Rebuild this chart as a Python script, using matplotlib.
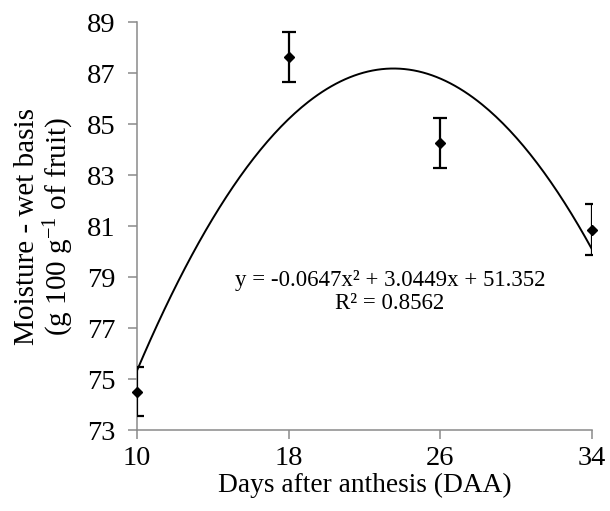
import numpy as np
import matplotlib.pyplot as plt

days = [10, 18, 26, 34]
moisture = [74.5, 87.64, 84.27, 80.86]
errors = [0.96, 0.98, 0.98, 1.0]
# quadratic trendline reported on the chart
coefs = [-0.0647, 3.0449, 51.352]
xticks = [10, 18, 26, 34]
yticks = list(range(73, 90, 2))

plt.rcParams['font.family'] = ['Liberation Serif', 'DejaVu Serif']
plt.rcParams['mathtext.fontset'] = 'custom'
plt.rcParams['mathtext.rm'] = 'Liberation Serif'
plt.rcParams['mathtext.it'] = 'Liberation Serif:italic'

fig = plt.figure(figsize=(6.1, 5.11), dpi=100)
ax = fig.add_axes([0.2246, 0.1585, 0.7459, 0.7984])

xs = np.linspace(days[0], days[-1], 200)
ax.plot(xs, np.polyval(coefs, xs), color='black', lw=1.4, zorder=2)
ax.errorbar(days, moisture, yerr=errors, fmt='none', ecolor='black',
            elinewidth=1.6, capsize=4.7, capthick=1.6, zorder=3)
ax.plot(days, moisture, 'D', color='black', ms=5.5, zorder=4, clip_on=False)

ax.text(23.35, 78.88, 'y = -0.0647x² + 3.0449x + 51.352', ha='center', va='center',
        fontsize=16.5)
ax.text(23.35, 77.98, 'R² = 0.8562', ha='center', va='center', fontsize=16.5)

ax.set_xlim(10, 34)
ax.set_ylim(73, 89)
ax.set_xticks(xticks)
ax.set_yticks(yticks)
ax.tick_params(labelsize=20.5, length=6.5, color='#8a8a8a', width=1.1, direction='out')
ax.tick_params(axis='x', pad=5)
ax.tick_params(axis='y', pad=9)
for s in ['top', 'right']:
    ax.spines[s].set_visible(False)
for s in ['left', 'bottom']:
    ax.spines[s].set_color('#8a8a8a')
    ax.spines[s].set_linewidth(1.1)

ax.set_xlabel('Days after anthesis (DAA)', fontsize=19.7, labelpad=1)
ax.set_ylabel('Moisture - wet basis\n(g 100 g$^{\\mathregular{-1}}$ of fruit)', fontsize=21,
              linespacing=1.05, labelpad=8)

fig.savefig('out.png', dpi=100)
